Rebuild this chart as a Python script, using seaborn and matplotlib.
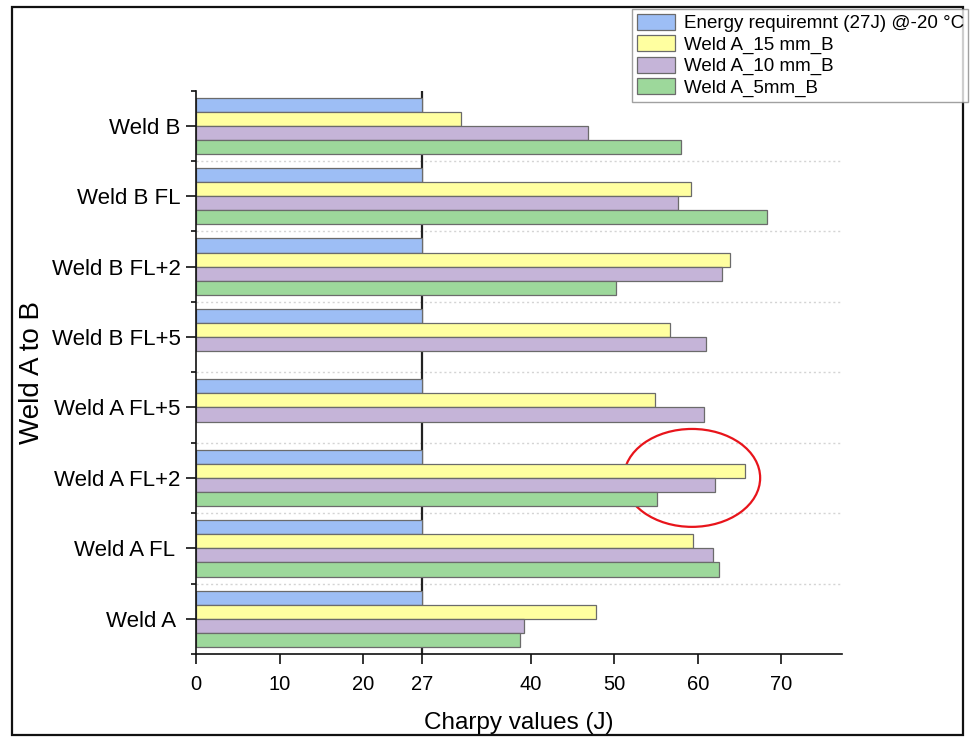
import numpy as np
import pandas as pd
import matplotlib
matplotlib.use("Agg")
import matplotlib.pyplot as plt
from matplotlib.patches import Ellipse, Rectangle, Patch
import seaborn as sns

# Charpy impact values (J) per weld location, top to bottom
categories = ["Weld B", "Weld B FL", "Weld B FL+2", "Weld B FL+5",
              "Weld A FL+5", "Weld A FL+2", "Weld A FL ", "Weld A "]
energy_req = [27, 27, 27, 27, 27, 27, 27, 27]
weld_15mm = [31.7, 59.2, 63.8, 56.7, 54.9, 65.6, 59.4, 47.8]
weld_10mm = [46.9, 57.6, 62.9, 61.0, 60.7, 62.1, 61.8, 39.2]
weld_5mm = [58.0, 68.3, 50.2, np.nan, np.nan, 55.1, 62.5, 38.7]

series_names = ["Energy requiremnt (27J) @-20 °C", "Weld A_15 mm_B",
                "Weld A_10 mm_B", "Weld A_5mm_B"]
series_colors = ["#9dbef5", "#ffffa0", "#c5b4d8", "#9dd89b"]
x_ticks = [0, 10, 20, 27, 40, 50, 60, 70]
requirement = 27

frames = []
for name, vals in zip(series_names, [energy_req, weld_15mm, weld_10mm, weld_5mm]):
    frames.append(pd.DataFrame({"location": categories, "series": name, "value": vals}))
df = pd.concat(frames, ignore_index=True)

sns.set_theme(style="ticks")
plt.rcParams["font.family"] = ["Liberation Sans", "DejaVu Sans"]
plt.rcParams["text.color"] = "black"
plt.rcParams["axes.labelcolor"] = "black"
plt.rcParams["xtick.color"] = "black"
plt.rcParams["ytick.color"] = "black"

fig = plt.figure(figsize=(9.71, 7.39), dpi=100)
ax = fig.add_axes([196 / 971, 1 - 654 / 739, (841.7 - 196) / 971, (654 - 90.5) / 739])

sns.barplot(data=df.dropna(), x="value", y="location", hue="series",
            order=categories, hue_order=series_names, palette=series_colors,
            orient="h", width=0.8, edgecolor="#6b6b6b", linewidth=0.9,
            saturation=1, legend=False, ax=ax, zorder=2)

ax.set_xlim(0, 77.2)
ax.set_ylim(7.5, -0.5)

# requirement line and group separators sit behind the bars
ax.axvline(requirement, color="#222222", lw=1.6, zorder=0.5)
ax.hlines(np.arange(0.5, len(categories) - 0.5, 1.0), 0, 77.2,
          colors="#d4d4d4", linestyles=(0, (1.5, 2)), lw=1.0, zorder=0.4)

# highlight of the Weld A FL+2 group
ax.add_patch(Ellipse((59.3, 5.0), 16.3, 1.39, fill=False, edgecolor="#e8141b",
                     lw=1.6, zorder=0.6))

ax.set_xticks(x_ticks)
ax.set_xticklabels([str(t) for t in x_ticks])
ax.set_yticks(range(len(categories)))
ax.set_yticklabels(categories)
ax.set_yticks(np.arange(-0.5, len(categories), 1.0), minor=True)
ax.tick_params(axis="y", which="major", length=7, width=1.2, direction="out",
               labelsize=16, pad=4, color="#111111", labelcolor="black")
ax.tick_params(axis="y", which="minor", length=3.5, width=1.2, direction="out",
               color="#111111")
ax.tick_params(axis="x", which="major", length=7, width=1.2, direction="out",
               labelsize=14.5, pad=8, color="#111111", labelcolor="black")

sns.despine(ax=ax, top=True, right=True)
for side in ("left", "bottom"):
    ax.spines[side].set_linewidth(1.2)
    ax.spines[side].set_color("#111111")

ax.set_xlabel("Charpy values (J)", fontsize=17.5, labelpad=13, color="black")
ax.set_ylabel("Weld A to B", fontsize=20, labelpad=5, color="black")

handles = [Patch(facecolor=c, edgecolor="#6b6b6b", lw=0.9) for c in series_colors]
leg = fig.legend(handles, series_names, loc="upper left",
                 bbox_to_anchor=(632 / 971, 1 - 9 / 739), fontsize=13.5,
                 frameon=True, fancybox=False, shadow=False,
                 handlelength=2.05, handleheight=0.95, handletextpad=0.45,
                 labelspacing=0.15, borderpad=0.25, borderaxespad=0)
leg.get_frame().set_edgecolor("#8a8a8a")
leg.get_frame().set_linewidth(1.0)
for t in leg.get_texts():
    t.set_color("black")

# outer frame around the whole figure
fig.patches.append(Rectangle((11.7 / 971, 1 - 735 / 739), (963 - 11.7) / 971,
                             (735 - 7.3) / 739, transform=fig.transFigure,
                             fill=False, edgecolor="#111111", lw=1.6))

fig.savefig("out.png", dpi=100)
